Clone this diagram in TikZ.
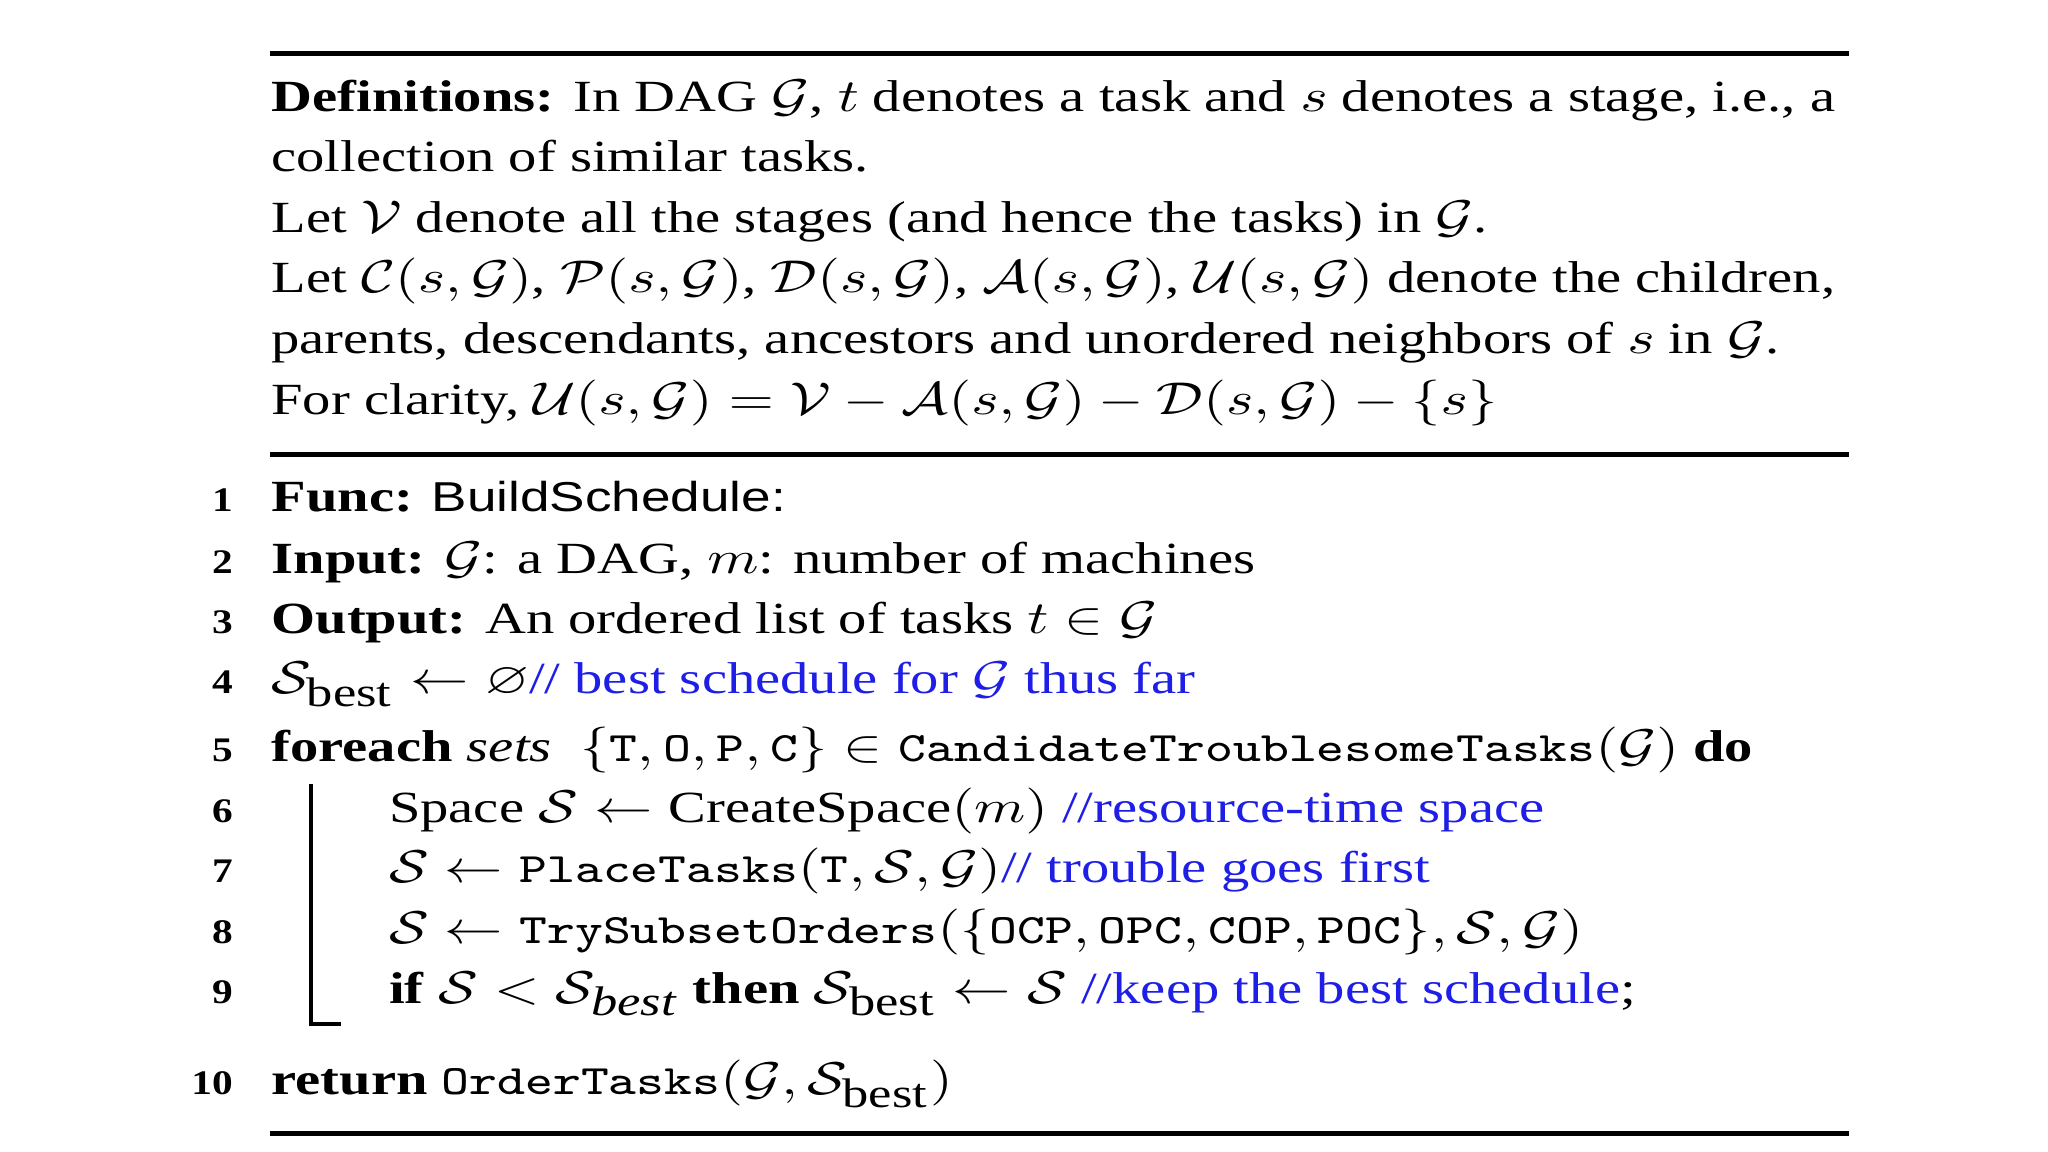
\documentclass[tikz,border=0pt]{standalone}
\usepackage{fontspec}
\usepackage{amsmath,amssymb}
\setmainfont{Liberation Serif}
\newfontfamily\hsans{Liberation Sans}
\definecolor{cblue}{RGB}{30,30,230}
\newcommand{\cm}[1]{\textcolor{cblue}{#1}}
\newcommand{\tx}[1]{\text{\fontsize{9.1}{12}\selectfont\ttfamily #1}}
\newcommand{\tsc}{\mathcal{S}}
\newcommand{\tgc}{\mathcal{G}}
\newcommand{\bst}{\mathcal{S}_{\text{\fontsize{9}{9}\selectfont best}}}
\newcommand{\bsti}{\mathcal{S}_{\text{\fontsize{9}{9}\selectfont\itshape best}}}
\begin{document}
\begin{tikzpicture}[x=0.01cm,y=-0.01cm,
  ln/.style={anchor=base west,inner sep=0pt,xscale=1.27,font=\fontsize{9.7}{12}\selectfont},
  num/.style={anchor=base east,inner sep=0pt,xscale=1.2,font=\fontsize{7.5}{12}\selectfont\bfseries}]
\useasboundingbox (0,0) rectangle (1568,882);
\fill[white] (0,0) rectangle (1568,882);
\draw[line width=1.2pt] (207,41) -- (1416,41);
\draw[line width=1.2pt] (207,348) -- (1416,348);
\draw[line width=1.2pt] (207,868) -- (1416,868);
\node[ln] (d1) at (207,85) {\textbf{Definitions:} In DAG $\tgc$, $t$ denotes a task and $s$ denotes a stage, i.e., a};
\node[ln] (d2) at (207,131) {collection of similar tasks.};
\node[ln] (d3) at (207,178) {Let $\mathcal{V}$ denote all the stages (and hence the tasks) in $\tgc$.};
\node[ln] (d4) at (207,224) {Let $\mathcal{C}(s,\tgc)$, $\mathcal{P}(s,\tgc)$, $\mathcal{D}(s,\tgc)$, $\mathcal{A}(s,\tgc)$, $\mathcal{U}(s,\tgc)$ denote the children,};
\node[ln] (d5) at (207,271) {parents, descendants, ancestors and unordered neighbors of $s$ in $\tgc$.};
\node[ln] (d6) at (207,317) {For clarity, $\mathcal{U}(s,\tgc)=\mathcal{V}-\mathcal{A}(s,\tgc)-\mathcal{D}(s,\tgc)-\{s\}$};
\foreach \n/\y in {1/392,2/439,3/485,4/531,5/583,6/630,7/676,8/722,9/768,10/838}
  \node[num] (n\n) at (179,\y) {\n};
\node[ln] (l1) at (207,392) {\textbf{Func:} {\hsans\fontsize{9.1}{12}\selectfont BuildSchedule:}};
\node[ln] (l2) at (207,439) {\textbf{Input:} $\tgc$: a DAG, $m$: number of machines};
\node[ln] (l3) at (207,485) {\textbf{Output:} An ordered list of tasks $t\in\tgc$};
\node[ln] (l4) at (207,531) {$\bst\leftarrow\varnothing$\cm{// best schedule for $\tgc$ thus far}};
\node[ln] (l5) at (207,583) {\textbf{foreach} \textit{sets} \ $\{\tx{T},\tx{O},\tx{P},\tx{C}\}\in\tx{CandidateTroublesomeTasks}(\tgc)$ \textbf{do}};
\node[ln] (l6) at (297,630) {Space $\tsc\leftarrow\text{CreateSpace}(m)$ \cm{//resource-time space}};
\node[ln] (l7) at (297,676) {$\tsc\leftarrow\tx{PlaceTasks}(\tx{T},\tsc,\tgc)$\cm{// trouble goes first}};
\node[ln] (l8) at (297,722) {$\tsc\leftarrow\tx{TrySubsetOrders}(\{\tx{OCP},\tx{OPC},\tx{COP},\tx{POC}\},\tsc,\tgc)$};
\node[ln] (l9) at (297,768) {\textbf{if} $\tsc<\bsti$ \textbf{then} $\bst\leftarrow\tsc$ \cm{//keep the best schedule};};
\node[ln] (l10) at (207,838) {\textbf{return} $\tx{OrderTasks}(\tgc,\bst)$};
\draw[line width=1pt] (238,600) -- (238,784) -- (261,784);
\end{tikzpicture}
\end{document}
